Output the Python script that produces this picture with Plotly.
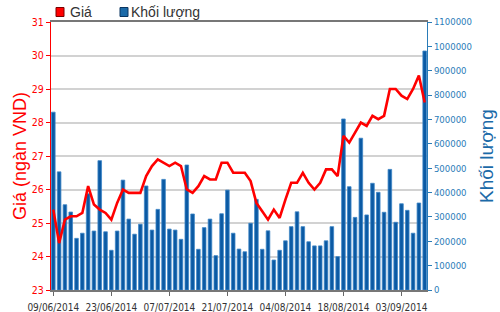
import plotly.graph_objects as go

dates = [
    "09/06/2014", "10/06/2014", "11/06/2014", "12/06/2014", "13/06/2014",
    "16/06/2014", "17/06/2014", "18/06/2014", "19/06/2014", "20/06/2014",
    "23/06/2014", "24/06/2014", "25/06/2014", "26/06/2014", "27/06/2014",
    "30/06/2014", "01/07/2014", "02/07/2014", "03/07/2014", "04/07/2014",
    "07/07/2014", "08/07/2014", "09/07/2014", "10/07/2014", "11/07/2014",
    "14/07/2014", "15/07/2014", "16/07/2014", "17/07/2014", "18/07/2014",
    "21/07/2014", "22/07/2014", "23/07/2014", "24/07/2014", "25/07/2014",
    "28/07/2014", "29/07/2014", "30/07/2014", "31/07/2014", "01/08/2014",
    "04/08/2014", "05/08/2014", "06/08/2014", "07/08/2014", "08/08/2014",
    "11/08/2014", "12/08/2014", "13/08/2014", "14/08/2014", "15/08/2014",
    "18/08/2014", "19/08/2014", "20/08/2014", "21/08/2014", "22/08/2014",
    "25/08/2014", "26/08/2014", "27/08/2014", "28/08/2014", "29/08/2014",
    "03/09/2014", "04/09/2014", "05/09/2014", "08/09/2014", "09/09/2014",
]

price = [
    25.4, 24.4, 25.1, 25.2, 25.2, 25.3, 26.1, 25.55, 25.4, 25.3,
    25.1, 25.6, 26.0, 25.9, 25.9, 25.9, 26.4, 26.7, 26.9, 26.8,
    26.7, 26.8, 26.7, 26.0, 25.9, 26.1, 26.4, 26.3, 26.3, 26.8,
    26.8, 26.5, 26.5, 26.5, 26.25, 25.6, 25.35, 25.1, 25.4, 25.15,
    25.7, 26.2, 26.2, 26.5, 26.2, 26.0, 26.2, 26.6, 26.6, 26.4,
    27.6, 27.4, 27.7, 28.0, 27.9, 28.2, 28.1, 28.2, 29.0, 29.0,
    28.8, 28.7, 29.0, 29.4, 28.6,
]

volume = [
    730000, 485000, 350000, 320000, 212000, 233000, 395000, 242000, 531000, 239000,
    163000, 242000, 451000, 291000, 229000, 270000, 427000, 246000, 331000, 454000,
    250000, 246000, 208000, 513000, 312000, 167000, 256000, 291000, 141000, 313000,
    410000, 233000, 168000, 157000, 274000, 372000, 167000, 243000, 123000, 163000,
    202000, 260000, 321000, 260000, 198000, 181000, 181000, 202000, 260000, 137000,
    702000, 424000, 298000, 623000, 308000, 438000, 401000, 319000, 495000, 278000,
    354000, 327000, 233000, 357000, 981000,
]

tick_dates = ["09/06/2014", "23/06/2014", "07/07/2014", "21/07/2014",
              "04/08/2014", "18/08/2014", "03/09/2014"]

price_ticks = [23, 24, 25, 26, 27, 28, 29, 30, 31]
volume_ticks = [0, 100000, 200000, 300000, 400000, 500000, 600000,
                700000, 800000, 900000, 1000000, 1100000]

NARROW = "DejaVu Sans Condensed, Liberation Sans Narrow, Liberation Sans, sans-serif"
SANS = "Liberation Sans, Arial, sans-serif"
RED = "#ff0000"
BLUE_BAR = "#0b5aa4"
BLUE_AXIS = "#2a7cb8"
BLUE_TITLE = "#1b6aa8"

fig = go.Figure()

fig.add_trace(go.Bar(
    x=dates, y=volume, name="Khối lượng", yaxis="y",
    marker=dict(color=BLUE_BAR, line=dict(color="#3f86c6", width=0.8)),
    width=0.62, showlegend=False,
))

fig.add_trace(go.Scatter(
    x=dates, y=price, name="Giá", yaxis="y2", mode="lines",
    line=dict(color=RED, width=2.6), showlegend=False,
))

fig.update_layout(
    width=500, height=312,
    margin=dict(l=51, r=73, t=22, b=22, autoexpand=False),
    paper_bgcolor="white", plot_bgcolor="white",
    bargap=0.3,
    xaxis=dict(
        type="category", range=[-0.4, 64.4], automargin=False,
        tickmode="array", tickvals=tick_dates, ticktext=tick_dates, tickangle=0,
        ticks="outside", ticklen=4, tickcolor="#666", ticklabelstandoff=3,
        tickfont=dict(family=NARROW, size=10, color="#333"),
        showgrid=False, showline=True, linecolor="#777", linewidth=1.5,
        mirror=True, zeroline=False,
    ),
    yaxis=dict(
        side="right", range=[0, 1100000], automargin=False,
        tickmode="array", tickvals=volume_ticks, tickformat="d",
        ticks="outside", ticklen=4, tickcolor=BLUE_AXIS,
        tickfont=dict(family=NARROW, size=9.5, color=BLUE_AXIS),
        showgrid=False, showline=True, linecolor=BLUE_AXIS, linewidth=1,
        zeroline=False,
        title=dict(text="Khối lượng", font=dict(family=SANS, size=19, color=BLUE_TITLE),
                   standoff=8),
    ),
    yaxis2=dict(
        overlaying="y", side="left", range=[23, 31], automargin=False,
        tickmode="array", tickvals=price_ticks,
        ticks="outside", ticklen=4, tickcolor=RED,
        tickfont=dict(family=NARROW, size=10.5, color=RED),
        showgrid=True, gridcolor="#d2d2d2", gridwidth=2,
        showline=True, linecolor=RED, linewidth=1, zeroline=False,
        title=dict(text="Giá (ngàn VND)", font=dict(family=SANS, size=18, color=RED),
                   standoff=0),
    ),
    shapes=[
        dict(type="rect", xref="paper", yref="paper",
             x0=(56 - 51) / 376, x1=(64 - 51) / 376,
             y0=(290 - 16.5) / 268, y1=(290 - 7.5) / 268,
             fillcolor=RED, line=dict(color="#7a0000", width=1)),
        dict(type="rect", xref="paper", yref="paper",
             x0=(120 - 51) / 376, x1=(128 - 51) / 376,
             y0=(290 - 16.5) / 268, y1=(290 - 7.5) / 268,
             fillcolor=BLUE_TITLE, line=dict(color="#0a3560", width=1)),
    ],
    annotations=[
        dict(text="Giá", xref="paper", yref="paper",
             x=(68 - 51) / 376, y=(290 - 12) / 268,
             xanchor="left", yanchor="middle", showarrow=False,
             font=dict(family=SANS, size=14, color="#333")),
        dict(text="Khối lượng", xref="paper", yref="paper",
             x=(129 - 51) / 376, y=(290 - 12) / 268,
             xanchor="left", yanchor="middle", showarrow=False,
             font=dict(family=SANS, size=14, color="#333")),
    ],
)

fig.write_html("out.html")
